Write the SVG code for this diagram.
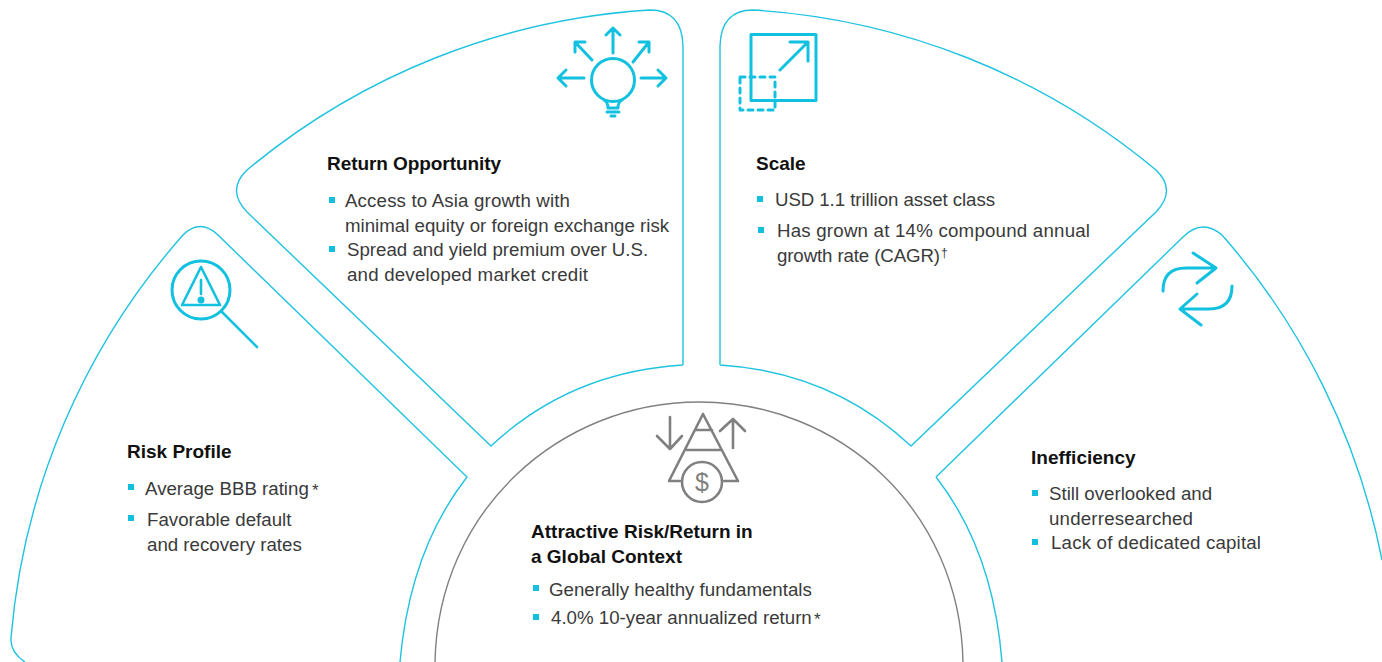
<svg xmlns="http://www.w3.org/2000/svg" width="1382" height="662" viewBox="0 0 1382 662">
<style>
text{font-family:"Liberation Sans",Arial,sans-serif;font-size:18.7px;fill:#3a3a3a}
.h{font-weight:700;fill:#111;font-size:19px}
.s{font-size:17px}
.d{font-size:12px}
.p{fill:none;stroke:#1fc3e0;stroke-width:1.4}
.i{fill:none;stroke:#12c0df;stroke-width:3;stroke-linecap:round;stroke-linejoin:round}
.g{fill:none;stroke:#808080;stroke-width:2.6;stroke-linecap:round;stroke-linejoin:round}
.b{fill:#12bfdc}
</style>
<rect width="1382" height="662" fill="#fff"/>
<g id="risk-profile">
<path class="p" d="M25 662Q10 652 11 638A695 695 0 0 1 183 235Q200 218 218 235L467 477Q410 550 400 662"/>
<g class="i"><circle cx="201" cy="290" r="29"/><path stroke-width="2.6" d="M201 267L220 305H182ZM201 280V294M222 312L257 347"/></g><circle class="b" cx="201" cy="300" r="3.500"/>
<text class="h" x="127" y="458">Risk Profile</text>
<rect class="b" x="128" y="484" width="6" height="6"/><text x="145" y="495">Average BBB rating</text><text class="s" x="312" y="496">*</text>
<rect class="b" x="128" y="515" width="6" height="6"/><text x="147" y="526">Favorable default</text><text x="147" y="551">and recovery rates</text>
</g>
<g id="return-opportunity">
<path class="p" d="M683 365V46Q682 10 650 10A695 695 0 0 0 247 170Q226 190 247 212L491 446Q570 372 683 365"/>
<g class="i"><circle cx="613" cy="80" r="21.500"/><path d="M604 100Q608 102 608 108H618Q618 102 622 100M607 112H619M611 116H615M613 53V28M606 35L613 28L620 35M592 60L575 42M575 52V42H585M633 62L649 42M639 42H649V52M584 78H558M566 70L558 78L566 86M641 78H666M658 70L666 78L658 86"/></g>
<text class="h" x="327" y="170" textLength="174">Return Opportunity</text>
<rect class="b" x="329" y="197" width="6" height="6"/><text x="345" y="207" textLength="225">Access to Asia growth with</text><text x="345" y="232">minimal equity or foreign exchange risk</text>
<rect class="b" x="329" y="246" width="6" height="6"/><text x="347" y="256">Spread and yield premium over U.S.</text><text x="347" y="281" textLength="241">and developed market credit</text>
</g>
<g id="scale">
<path class="p" d="M720 365V46Q721 10 753 10A695 695 0 0 1 1156 170Q1177 190 1156 212L911 446Q832 372 720 365"/>
<g class="i"><path d="M751 34.500H816V100.500H751ZM780 70L808 42M790 42H808V61"/><path stroke-dasharray="5 5" d="M740 77H775V110H740Z"/></g>
<text class="h" x="756" y="170">Scale</text>
<rect class="b" x="757" y="196" width="6" height="6"/><text x="775" y="206" textLength="220">USD 1.1 trillion asset class</text>
<rect class="b" x="758" y="227" width="6" height="6"/><text x="777" y="237" textLength="313">Has grown at 14% compound annual</text><text x="777" y="262" textLength="163">growth rate (CAGR)</text><text class="d" x="941" y="257">†</text>
</g>
<g id="inefficiency">
<path class="p" d="M936 477L1183 237Q1202 218 1222 235A695 695 0 0 1 1382 560"/>
<path class="p" d="M936 477Q993 550 1002 662"/>
<g class="i"><path d="M1163 291Q1163 268 1186 268H1216M1193 253L1216 268L1197 283M1232 286Q1232 309 1209 309H1180M1197 294L1180 309L1201 325"/></g>
<text class="h" x="1031" y="464">Inefficiency</text>
<rect class="b" x="1032" y="490" width="6" height="6"/><text x="1049" y="500">Still overlooked and</text><text x="1049" y="525" textLength="144">underresearched</text>
<rect class="b" x="1032" y="539" width="6" height="6"/><text x="1051" y="549" textLength="210">Lack of dedicated capital</text>
</g>
<g id="global-context">
<path fill="none" stroke="#808080" stroke-width="1.4" d="M435 662C438 510 560 402 699 402C840 402 960 510 963 662"/>
<g class="g"><path d="M670 417V449M657 436L670 449L682 436M733 448V419M720 431L733 419L745 431M703 414L669 481H680M703 414L738 481H724M695 430H712M687 450H721"/><circle cx="702" cy="482" r="20"/></g>
<text x="702" y="491" text-anchor="middle" style="fill:#808080;font-size:25px">$</text>
<text class="h" x="531" y="538">Attractive Risk/Return in</text><text class="h" x="531" y="563">a Global Context</text>
<rect class="b" x="533" y="585" width="6" height="6"/><text x="549" y="596">Generally healthy fundamentals</text>
<rect class="b" x="533" y="614" width="6" height="6"/><text x="551" y="624">4.0% 10-year annualized return</text><text class="s" x="814" y="625">*</text>
</g>
</svg>
